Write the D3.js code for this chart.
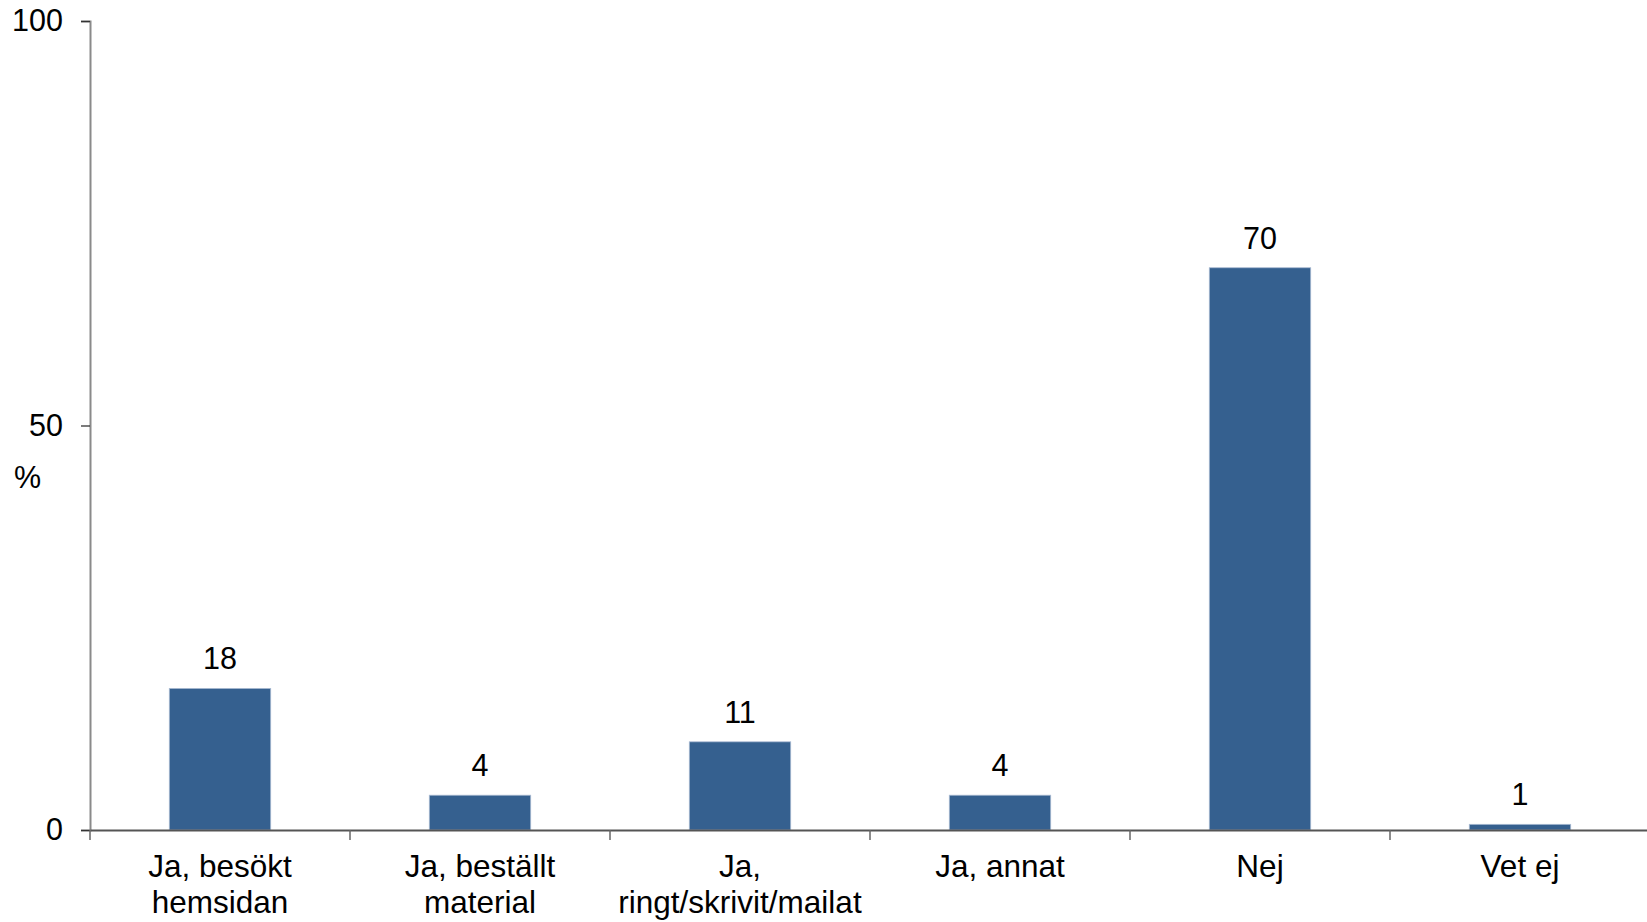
<!DOCTYPE html>
<html>
<head>
<meta charset="utf-8">
<script src="https://cdn.jsdelivr.net/npm/d3@7"></script>
<style>
  html, body { margin: 0; padding: 0; background: #fff; }
  svg text { font-family: "Liberation Sans", Arial, sans-serif; fill: #000; }
</style>
</head>
<body>
<svg id="chart" width="1647" height="922"></svg>
<script>
const categories = ["Ja, besökt hemsidan", "Ja, beställt material", "Ja, ringt/skrivit/mailat", "Ja, annat", "Nej", "Vet ej"];
const categoryLines = [["Ja, besökt", "hemsidan"], ["Ja, beställt", "material"], ["Ja,", "ringt/skrivit/mailat"], ["Ja, annat"], ["Nej"], ["Vet ej"]];
const values = [17.5, 4.3, 10.9, 4.3, 69.5, 0.7];
const yTicks = [0, 50, 100];
const yLabel = "%";

const svg = d3.select("#chart");
const margin = { left: 90, right: -3, top: 21, bottom: 92 };
const W = 1647, H = 922;

const x = d3.scaleBand().domain(categories)
  .range([margin.left, W - margin.right]).paddingInner(0.61).paddingOuter(0.305);
const xb = d3.scaleBand().domain(categories).range([margin.left, W - margin.right]).padding(0);
const y = d3.scaleLinear().domain([0, 100]).range([H - margin.bottom, margin.top]);

// bars
svg.append("g").selectAll("rect").data(values).join("rect")
  .attr("x", (d, i) => x(categories[i]))
  .attr("width", x.bandwidth())
  .attr("y", d => y(d))
  .attr("height", d => y(0) - y(d))
  .attr("fill", "#35608f")
  .attr("stroke", "#a9bad2")
  .attr("stroke-width", 0.8);

// value labels
svg.append("g").selectAll("text").data(values).join("text")
  .attr("x", (d, i) => x(categories[i]) + x.bandwidth() / 2)
  .attr("y", d => y(d) - 19)
  .attr("text-anchor", "middle")
  .style("font-size", "30.5px")
  .text(d => d3.format(".0f")(d));

// y axis
const yAxis = d3.axisLeft(y).tickValues(yTicks).tickSize(9).tickPadding(18).tickFormat(d3.format("d"));
const gy = svg.append("g").attr("transform", `translate(${margin.left},0)`).call(yAxis);
gy.select(".domain").attr("stroke", "#8a8a8a").attr("stroke-width", 2);
gy.selectAll(".tick line").attr("stroke", "#333").attr("stroke-width", 1.3);
gy.selectAll(".tick text").style("font-size", "30.5px").attr("fill", "#000")
  .style("font-family", "'Liberation Sans', Arial, sans-serif");

// x axis
const xAxis = d3.axisBottom(xb).tickSize(0).tickFormat("");
const gx = svg.append("g").attr("transform", `translate(0,${y(0)})`).call(xAxis);
gx.select(".domain").attr("stroke", "#555").attr("stroke-width", 2);
gx.selectAll(".tick").remove();
// boundary ticks
const bounds = categories.map(c => xb(c)).concat([xb(categories[categories.length - 1]) + xb.bandwidth()]);
gx.selectAll("line.b").data(bounds).join("line").attr("class", "b")
  .attr("x1", d => d).attr("x2", d => d).attr("y1", 0).attr("y2", 10)
  .attr("stroke", "#666").attr("stroke-width", 1.5);

// category labels
const cl = svg.append("g").selectAll("text").data(categoryLines).join("text")
  .attr("text-anchor", "middle")
  .attr("x", (d, i) => xb(categories[i]) + xb.bandwidth() / 2)
  .attr("y", 877)
  .style("font-size", "31.5px");
cl.selectAll("tspan").data(d => d).join("tspan")
  .attr("x", function() { return d3.select(this.parentNode).attr("x"); })
  .attr("dy", (d, j) => j === 0 ? 0 : 36)
  .text(d => d);

// y label
svg.append("text").attr("x", 14).attr("y", 488).style("font-size", "30.5px").text(yLabel);
</script>
</body>
</html>
